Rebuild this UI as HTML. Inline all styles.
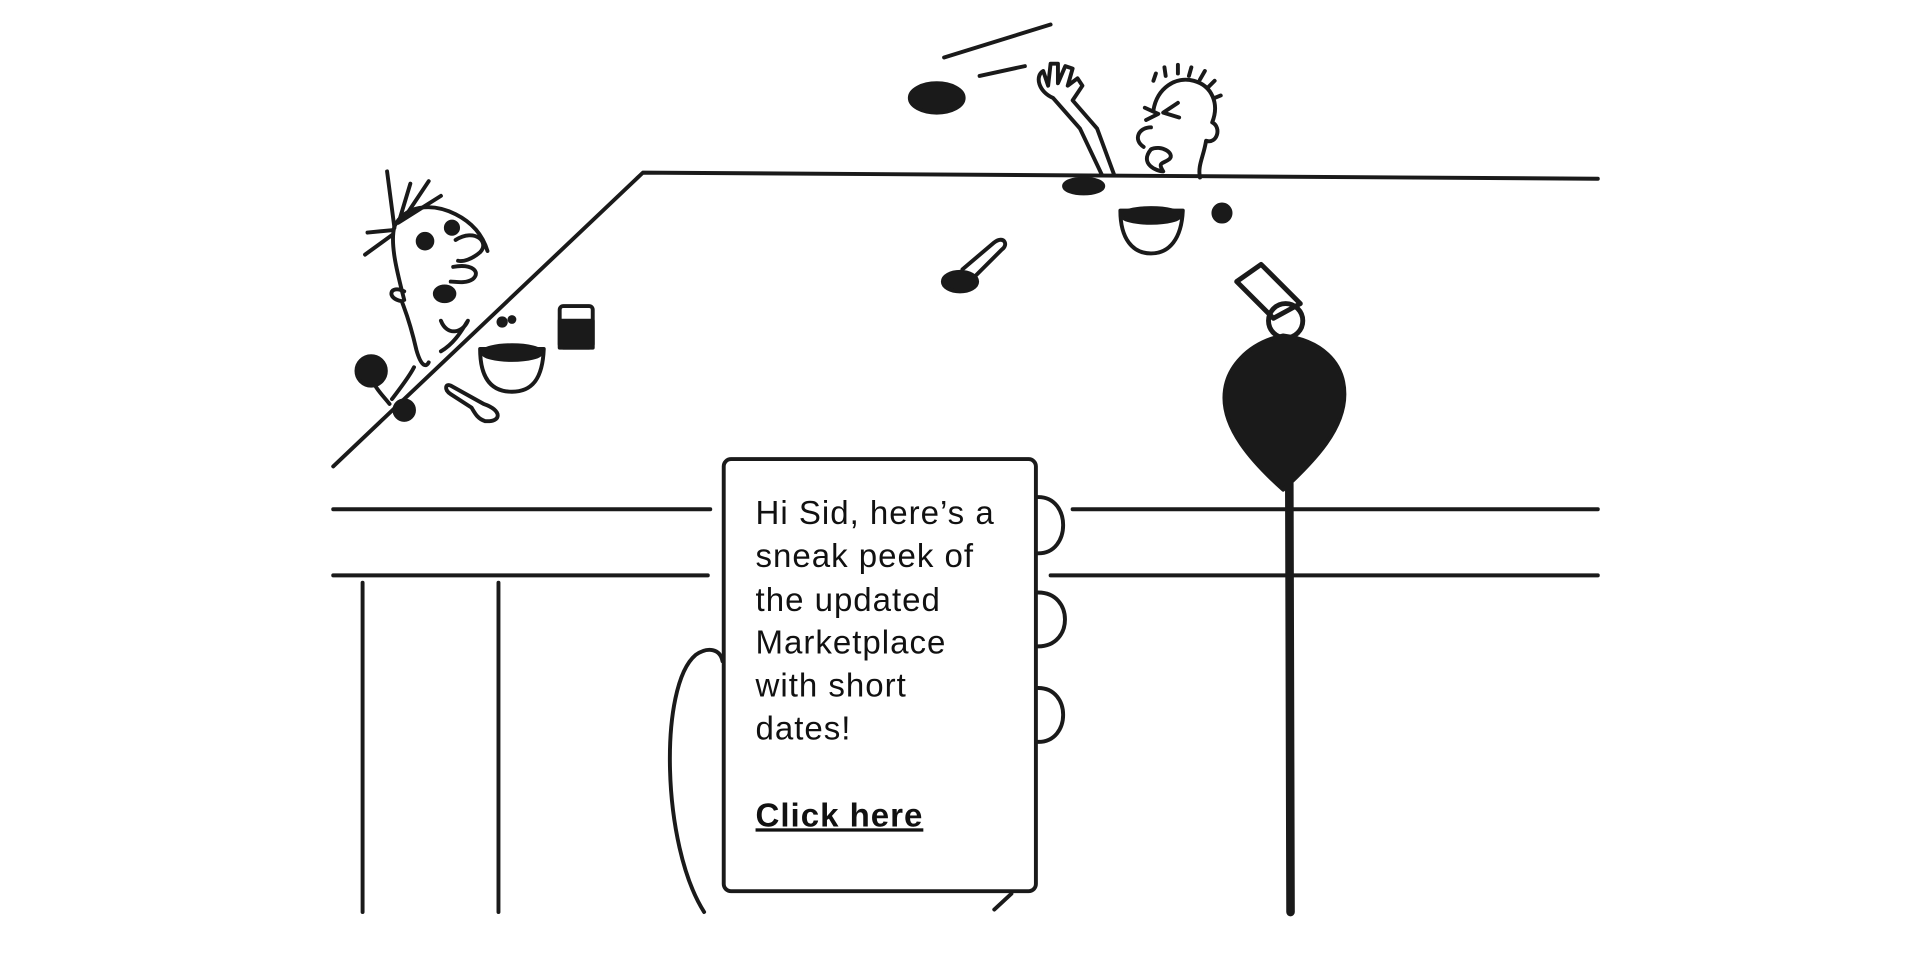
<!DOCTYPE html>
<html><head><meta charset="utf-8"><style>
html,body{margin:0;padding:0;background:#fff;overflow:hidden}
svg{display:block}
</style></head><body>
<svg width="1920" height="961" viewBox="0 0 1568 785" xmlns="http://www.w3.org/2000/svg">
<g fill="none" stroke="#1a1a1a" stroke-width="3.2" stroke-linecap="round" stroke-linejoin="round">
<path d="M272 381 L525 141 L1305 146"/>
<path d="M272 416 L580 416"/><path d="M876 416 L1305 416"/>
<path d="M272 470 L578 470"/><path d="M858 470 L1305 470"/>
<path d="M296 476 L296 745"/><path d="M407 476 L407 745"/>
<rect x="591" y="375" width="255" height="353" rx="6"/>
<path d="M848 406 C875 406 875 452 848 452"/>
<path d="M848 484 C877 484 877 528 848 528"/>
<path d="M848 562 C875 562 875 606 848 606"/>
<path d="M575 745 C540 690 538 560 568 535 C578 528 588 530 590 540"/>
<path d="M812 743 L826 730"/>
<path d="M330 245 C325 225 318 200 322 185 C330 168 352 165 372 175 C388 183 395 195 398 205"/>
<path d="M322 186 L316 140 M326 180 L335 150 M330 178 L350 148 M325 182 L360 160 M320 188 L300 190 M320 192 L298 208"/>
<path d="M372 196 C388 186 400 198 392 206 C385 212 378 214 374 213"/>
<path d="M370 218 C385 215 393 222 386 228 C380 232 372 230 368 230"/>
<path d="M330 238 C318 232 315 244 328 246 C330 252 334 260 340 286 C344 300 348 300 350 296"/>
<path d="M360 262 C365 275 378 272 382 262 C378 268 372 280 360 287"/>
<path d="M338 300 C334 308 326 318 320 326 M306 304 C300 312 312 322 318 330"/>
<circle cx="347" cy="197" r="6" fill="#1a1a1a"/><circle cx="369" cy="186" r="5" fill="#1a1a1a"/>
<ellipse cx="363" cy="240" rx="8" ry="6" fill="#1a1a1a"/>
<circle cx="303" cy="303" r="12" fill="#1a1a1a"/>
<path d="M392 285 C392 310 402 320 418 320 C434 320 443 310 444 285 Z"/>
<ellipse cx="418" cy="288" rx="24" ry="6" fill="#1a1a1a"/>
<rect x="457" y="250" width="27" height="34" rx="3"/>
<rect x="457" y="262" width="27" height="22" fill="#1a1a1a"/>
<path d="M368 315 L395 330 C410 335 410 345 396 344 C390 342 388 338 385 333 L368 322 C362 318 364 313 368 315Z"/>
<circle cx="330" cy="335" r="8" fill="#1a1a1a"/>
<circle cx="410" cy="263" r="3" fill="#1a1a1a"/><circle cx="418" cy="261" r="2" fill="#1a1a1a"/>
<path d="M771 47 L858 20"/><path d="M800 62 L837 54"/>
<path d="M900 143 L882 105 L860 80 C848 75 845 62 852 58 L856 70 L858 52 L864 52 L864 68 L870 54 L876 56 L872 70 L880 64 L884 70 L876 82 L896 105 L910 143"/>
<path d="M942 90 C945 72 960 62 975 66 C990 70 996 85 990 100 C998 104 994 118 985 115 C983 128 978 135 980 145"/>
<path d="M942 66 L944 60 M952 62 L951 55 M962 60 L962 53 M971 62 L973 55 M980 65 L984 58 M987 71 L992 66 M992 80 L997 78"/>
<path d="M935 88 L946 93 L936 98 M962 84 L950 92 L963 96"/>
<path d="M940 104 C930 104 925 114 934 120"/>
<path d="M940 122 C948 118 960 125 955 130 C950 134 945 132 950 140 C945 140 930 134 940 122"/>
<ellipse cx="765" cy="80" rx="22" ry="12" fill="#1a1a1a"/>
<ellipse cx="885" cy="152" rx="16" ry="6" fill="#1a1a1a"/>
<path d="M915 172 C915 195 925 207 940 207 C955 207 965 195 966 172 Z"/>
<ellipse cx="940" cy="176" rx="24" ry="6" fill="#1a1a1a"/>
<circle cx="998" cy="174" r="7" fill="#1a1a1a"/>
<path d="M786 220 L812 198 C820 192 824 200 818 204 L796 226"/>
<ellipse cx="784" cy="230" rx="14" ry="8" fill="#1a1a1a"/>
<path d="M1010 230 L1030 216 L1062 248 L1040 260 Z" stroke-width="4"/>
<circle cx="1050" cy="262" r="14" stroke-width="4"/>
<path d="M1048 274 C1020 280 1000 300 1000 325 C1000 350 1020 375 1048 400 C1075 375 1098 350 1098 322 C1098 295 1078 278 1048 274Z" fill="#1a1a1a"/>
<path d="M1053 395 L1054 745" stroke-width="7"/>
</g>
<g font-family="'Liberation Sans',sans-serif" font-size="27" letter-spacing="0.8" fill="#111">
<text x="617" y="428">Hi Sid, here’s a</text>
<text x="617" y="463">sneak peek of</text>
<text x="617" y="499">the updated</text>
<text x="617" y="534">Marketplace</text>
<text x="617" y="569">with short</text>
<text x="617" y="604">dates!</text>
<text x="617" y="675" font-weight="bold" text-decoration="underline">Click here</text>
</g>
</svg>
</body></html>
